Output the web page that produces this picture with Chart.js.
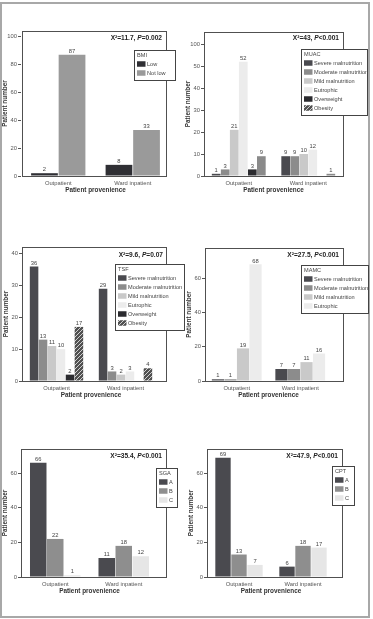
<!DOCTYPE html>
<html>
<head>
<meta charset="utf-8">
<script src="https://cdn.jsdelivr.net/npm/chart.js@4.4.1/dist/chart.umd.min.js"></script>
<style>
html, body { margin: 0; padding: 0; background: #fff; }
body { width: 373px; height: 619px; position: relative; overflow: hidden; }
#frame { position: absolute; left: 0; top: 2px; width: 370px; height: 616px; box-sizing: border-box; border: 2px solid #a8a8a8; }
canvas { position: absolute; left: 0; top: 0; }
</style>
</head>
<body>
<div id="frame"></div>
<canvas id="bmi" width="373" height="619"></canvas>
<canvas id="muac" width="373" height="619"></canvas>
<canvas id="tsf" width="373" height="619"></canvas>
<canvas id="mamc" width="373" height="619"></canvas>
<canvas id="sga" width="373" height="619"></canvas>
<canvas id="cpt" width="373" height="619"></canvas>
<script>
const provenience = ['Outpatient', 'Ward inpatient'];

// BMI
const bmiLow = [2, 8];
const bmiNotLow = [87, 33];
// MUAC
const muacSevere = [1, 9];
const muacModerate = [3, 9];
const muacMild = [21, 10];
const muacEutrophic = [52, 12];
const muacOverweight = [3, null];
const muacObesity = [9, 1];
// TSF
const tsfSevere = [36, 29];
const tsfModerate = [13, 3];
const tsfMild = [11, 2];
const tsfEutrophic = [10, 3];
const tsfOverweight = [2, null];
const tsfObesity = [17, 4];
// MAMC
const mamcSevere = [1, 7];
const mamcModerate = [1, 7];
const mamcMild = [19, 11];
const mamcEutrophic = [68, 16];
// SGA
const sgaA = [66, 11];
const sgaB = [22, 18];
const sgaC = [1, 12];
// CPT
const cptA = [69, 6];
const cptB = [13, 18];
const cptC = [7, 17];

// y tick labels
const bmiTicks = [0, 20, 40, 60, 80, 100];
const muacTicks = [0, 10, 20, 30, 40, 50, 60];
const muacTickLabels = ['0', '10', '20', '30', '40', '50', '100']; // broken axis, top tick reads 100
const tsfTicks = [0, 10, 20, 30, 40];
const countTicks = [0, 20, 40, 60];

const FONT = '"Liberation Sans", Arial, sans-serif';
const W = 373, H = 619;

function makeHatch() {
    const c = document.createElement('canvas');
    c.width = 4; c.height = 4;
    const g = c.getContext('2d');
    g.fillStyle = '#505050';
    g.fillRect(0, 0, 4, 4);
    g.strokeStyle = '#d0d0d0';
    g.lineWidth = 1;
    g.beginPath();
    g.moveTo(0, 4); g.lineTo(4, 0);
    g.moveTo(-1, 1); g.lineTo(1, -1);
    g.moveTo(3, 5); g.lineTo(5, 3);
    g.stroke();
    return g.createPattern(c, 'repeat');
}
const hatch = makeHatch();

const SEVERE = '#4a4a4f', MODERATE = '#8c8c8c', MILD = '#c9c9c9', EUTROPHIC = '#ececec', OVERWEIGHT = '#2b2b2f';

const panelPlugin = {
    id: 'panel',
    afterDatasetsDraw(chart, args, o) {
        const ctx = chart.ctx;
        const [l, t, r, b] = o.box;
        ctx.save();
        // plot frame
        ctx.strokeStyle = '#505050';
        ctx.lineWidth = 1;
        ctx.strokeRect(l + 0.5, t + 0.5, r - l, b - t);

        // value labels
        ctx.font = '5.8px ' + FONT;
        ctx.fillStyle = '#444';
        ctx.textAlign = 'center';
        ctx.textBaseline = 'bottom';
        chart.data.datasets.forEach((ds, i) => {
            chart.getDatasetMeta(i).data.forEach((bar, j) => {
                const v = ds.data[j];
                if (v == null) return;
                ctx.fillText(String(v), bar.x, bar.y - 0.5);
            });
        });

        // chi-square text
        const parts = [[o.stat.pre, 'bold'], ['P', 'italic bold'], [o.stat.post, 'bold']];
        let total = 0;
        parts.forEach(p => { ctx.font = p[1] + ' 6.6px ' + FONT; total += ctx.measureText(p[0]).width; });
        let x = o.stat.x - total;
        ctx.textAlign = 'left';
        ctx.textBaseline = 'middle';
        ctx.fillStyle = '#222';
        parts.forEach(p => {
            ctx.font = p[1] + ' 6.6px ' + FONT;
            ctx.fillText(p[0], x, o.stat.y);
            x += ctx.measureText(p[0]).width;
        });

        // legend box
        const lg = o.legend;
        const n = chart.data.datasets.length;
        const h = 14 + 9 * (n - 1) + 7;
        ctx.fillStyle = '#fff';
        ctx.fillRect(lg.x, lg.y, lg.w, h);
        ctx.strokeStyle = '#444';
        ctx.strokeRect(lg.x + 0.5, lg.y + 0.5, lg.w, h);
        ctx.font = '5.6px ' + FONT;
        ctx.fillStyle = '#444';
        ctx.fillText(lg.title, lg.x + 3, lg.y + 5.5);
        chart.data.datasets.forEach((ds, i) => {
            const y = lg.y + 14 + 9 * i;
            ctx.fillStyle = ds.swatch || ds.backgroundColor;
            ctx.fillRect(lg.x + 3, y - 2.75, 8.5, 5.5);
            ctx.fillStyle = '#444';
            ctx.fillText(ds.label, lg.x + 13, y);
        });
        ctx.restore();
    }
};

function makeChart(id, cfg) {
    const a = cfg.area;
    return new Chart(document.getElementById(id), {
        type: 'bar',
        data: { labels: provenience, datasets: cfg.datasets },
        options: {
            responsive: false,
            animation: false,
            layout: { padding: { left: a[0] - 20, top: a[1], right: W - a[2], bottom: H - a[3] - 18 } },
            datasets: { bar: { categoryPercentage: cfg.cat, barPercentage: cfg.bar } },
            plugins: { legend: { display: false }, tooltip: { enabled: false }, panel: cfg.panel },
            scales: {
                x: {
                    grid: { display: false, drawTicks: false },
                    border: { display: false },
                    ticks: { font: { size: 5.8, family: FONT }, color: '#555', padding: 4, maxRotation: 0, autoSkip: false },
                    title: { display: true, text: 'Patient provenience', font: { size: 6.4, weight: 'bold', family: FONT }, color: '#333', padding: 0 },
                    afterFit: s => { s.height = 18; }
                },
                y: {
                    min: 0,
                    max: cfg.max,
                    grid: { drawOnChartArea: false, tickLength: 3, color: '#555' },
                    border: { display: false },
                    ticks: {
                        font: { size: 5.8, family: FONT }, color: '#555', padding: 1,
                        callback: (v, i) => cfg.tickLabels ? cfg.tickLabels[i] : v
                    },
                    afterBuildTicks: s => { s.ticks = cfg.ticks.map(v => ({ value: v })); },
                    title: { display: true, text: 'Patient number', font: { size: 6.4, weight: 'bold', family: FONT }, color: '#333', padding: 0 },
                    afterFit: s => { s.width = 20; }
                }
            }
        },
        plugins: [panelPlugin]
    });
}

makeChart('bmi', {
    area: [21, 31, 170, 176], max: 104, ticks: bmiTicks, cat: 0.74, bar: 0.97,
    datasets: [
        { label: 'Low', data: bmiLow, backgroundColor: '#2f2f34' },
        { label: 'Not low', data: bmiNotLow, backgroundColor: '#9a9a9a' }
    ],
    panel: { box: [22, 31, 166, 176], stat: { x: 162, y: 38, pre: 'X\u00b2=11.7, ', post: '=0.002' }, legend: { x: 134, y: 50, w: 41, title: 'BMI' } }
});

makeChart('muac', {
    area: [204, 32, 343, 176], max: 65.5, ticks: muacTicks, tickLabels: muacTickLabels, cat: 0.78, bar: 0.96,
    datasets: [
        { label: 'Severe malnutrition', data: muacSevere, backgroundColor: SEVERE },
        { label: 'Moderate malnutrition', data: muacModerate, backgroundColor: MODERATE },
        { label: 'Mild malnutrition', data: muacMild, backgroundColor: MILD },
        { label: 'Eutrophic', data: muacEutrophic, backgroundColor: EUTROPHIC },
        { label: 'Overweight', data: muacOverweight, backgroundColor: OVERWEIGHT },
        { label: 'Obesity', data: muacObesity, backgroundColor: '#8a8a8a', swatch: hatch }
    ],
    panel: { box: [204, 32, 343, 176], stat: { x: 339, y: 38, pre: 'X\u00b2=43, ', post: '<0.001' }, legend: { x: 301, y: 49, w: 66, title: 'MUAC' } }
});

makeChart('tsf', {
    area: [22, 247, 160, 381], max: 42.1, ticks: tsfTicks, cat: 0.78, bar: 0.95,
    datasets: [
        { label: 'Severe malnutrition', data: tsfSevere, backgroundColor: SEVERE },
        { label: 'Moderate malnutrition', data: tsfModerate, backgroundColor: MODERATE },
        { label: 'Mild malnutrition', data: tsfMild, backgroundColor: MILD },
        { label: 'Eutrophic', data: tsfEutrophic, backgroundColor: EUTROPHIC },
        { label: 'Overweight', data: tsfOverweight, backgroundColor: OVERWEIGHT },
        { label: 'Obesity', data: tsfObesity, backgroundColor: hatch }
    ],
    panel: { box: [22, 247, 166, 381], stat: { x: 163, y: 255, pre: 'X\u00b2=9.6, ', post: '=0.07' }, legend: { x: 115, y: 264, w: 69, title: 'TSF' } }
});

makeChart('mamc', {
    area: [205, 248, 332, 381], max: 77.5, ticks: countTicks, cat: 0.79, bar: 0.97,
    datasets: [
        { label: 'Severe malnutrition', data: mamcSevere, backgroundColor: SEVERE },
        { label: 'Moderate malnutrition', data: mamcModerate, backgroundColor: MODERATE },
        { label: 'Mild malnutrition', data: mamcMild, backgroundColor: MILD },
        { label: 'Eutrophic', data: mamcEutrophic, backgroundColor: EUTROPHIC }
    ],
    panel: { box: [205, 248, 343, 381], stat: { x: 339, y: 255, pre: 'X\u00b2=27.5, ', post: '<0.001' }, legend: { x: 301, y: 265, w: 67, title: 'MAMC' } }
});

makeChart('sga', {
    area: [21, 449, 158, 577], max: 74, ticks: countTicks, cat: 0.745, bar: 0.97,
    datasets: [
        { label: 'A', data: sgaA, backgroundColor: SEVERE },
        { label: 'B', data: sgaB, backgroundColor: '#8e8e8e' },
        { label: 'C', data: sgaC, backgroundColor: '#e6e6e6' }
    ],
    panel: { box: [21, 449, 166, 577], stat: { x: 162, y: 456, pre: 'X\u00b2=35.4, ', post: '<0.001' }, legend: { x: 156, y: 468, w: 21, title: 'SGA' } }
});

makeChart('cpt', {
    area: [207, 449, 335, 577], max: 74, ticks: countTicks, cat: 0.75, bar: 0.96,
    datasets: [
        { label: 'A', data: cptA, backgroundColor: SEVERE },
        { label: 'B', data: cptB, backgroundColor: '#8e8e8e' },
        { label: 'C', data: cptC, backgroundColor: '#e6e6e6' }
    ],
    panel: { box: [207, 449, 342, 577], stat: { x: 338, y: 456, pre: 'X\u00b2=47.9, ', post: '<0.001' }, legend: { x: 332, y: 466, w: 22, title: 'CPT' } }
});
</script>
</body>
</html>
